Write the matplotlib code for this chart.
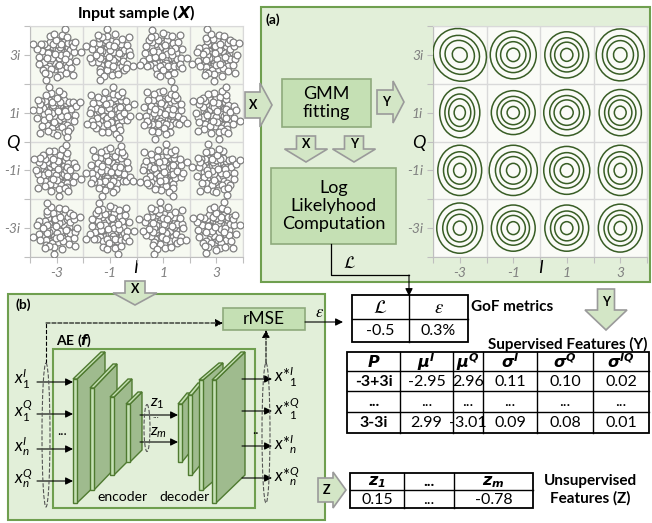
import numpy as np
import matplotlib.pyplot as plt
from matplotlib.patches import Rectangle, Polygon, Ellipse

plt.rcParams['font.family'] = ['Lato', 'DejaVu Sans']
plt.rcParams['mathtext.fontset'] = 'custom'
plt.rcParams['mathtext.rm'] = 'Lato'
plt.rcParams['mathtext.it'] = 'Lato:italic'
plt.rcParams['mathtext.bf'] = 'DejaVu Sans:italic:bold'

# 16-QAM constellation points (I, Q)
const_i = [-3, -1, 1, 3]
const_q = [3, 1, -1, -3]

# received symbol offsets around a constellation point
noise_dx = [0.05, -0.12, 0.18, -0.04, 0.22, -0.25, 0.08, -0.16, 0.12, -0.20,
            0.00, 0.26, -0.28, 0.15, -0.08, 0.02, -0.14, 0.24, -0.02, 0.10,
            -0.22, 0.20, -0.10, 0.28, -0.26, 0.06, -0.18, 0.16, -0.06, 0.12,
            0.40, -0.42, 0.35, -0.30, 0.10, -0.14, 0.22, -0.05, 0.48, -0.50,
            0.32, -0.36, 0.44, -0.46, 0.05, 0.28, -0.26, 0.38, -0.40, 0.52,
            -0.54, 0.16, -0.20, 0.46, -0.32, 0.34, 0.00, -0.38, 0.18, -0.12,
            0.42, -0.48, 0.30, -0.02, 0.08,
            0.66, -0.68, 0.58, -0.60, 0.55, -0.52, 0.20, -0.24, 0.14, -0.30,
            0.72, -0.74, 0.40, -0.44, 0.62, -0.10, 0.34, -0.66, 0.70, 0.00,
            0.90, -0.88, 0.30, -0.40, 0.62]
noise_dy = [0.02, 0.08, -0.10, -0.20, 0.14, -0.06, 0.25, 0.20, -0.24, -0.18,
            0.12, 0.00, 0.10, 0.08, -0.06, -0.28, 0.28, -0.18, 0.22, -0.12,
            0.02, 0.22, -0.27, 0.10, -0.20, 0.16, -0.10, -0.02, 0.04, 0.28,
            0.12, 0.18, -0.30, -0.38, 0.46, 0.50, -0.44, -0.48, -0.05, -0.02,
            0.36, 0.32, 0.28, -0.26, -0.40, 0.44, 0.44, -0.42, -0.44, 0.16,
            0.12, -0.52, -0.50, -0.24, 0.06, 0.02, 0.36, -0.12, 0.38, 0.38,
            0.40, 0.36, -0.14, 0.52, -0.34,
            0.10, -0.08, 0.40, 0.38, -0.45, -0.52, 0.68, 0.66, -0.70, -0.66,
            -0.20, 0.22, 0.62, -0.62, 0.30, 0.74, -0.64, -0.30, 0.44, -0.76,
            0.10, 0.36, 0.90, -0.86, -0.70]
# per-cluster mirroring / transposition of the offsets (sign I, sign Q, swap)
cluster_flip = [(1, 1, 0), (-1, 1, 1), (1, -1, 0), (-1, -1, 1),
                (-1, 1, 0), (1, 1, 1), (-1, -1, 0), (1, -1, 1),
                (1, -1, 1), (-1, -1, 0), (1, 1, 1), (-1, 1, 0),
                (-1, -1, 1), (1, -1, 0), (-1, 1, 1), (1, 1, 0)]

# fitted GMM components: outer contour half-widths (I, Q) and tilt
gmm_rx = [[1.01, 0.86, 0.82, 0.90],
          [0.75, 0.82, 0.86, 0.79],
          [0.82, 0.90, 0.86, 0.82],
          [0.86, 0.82, 0.82, 0.82]]
gmm_ry = [[0.90, 0.83, 0.80, 0.90],
          [0.87, 0.76, 0.80, 0.80],
          [0.87, 0.87, 0.83, 0.87],
          [0.87, 0.80, 0.80, 0.83]]
gmm_tilt = [[-20, 0, 0, 25],
            [0, 0, 0, 0],
            [0, 0, 0, 0],
            [0, 0, 0, 0]]
contour_levels = [0.28, 0.55, 0.74, 1.0]

gof_header = ['$\\mathcal{L}$', '$\\varepsilon$']
gof_values = ['-0.5', '0.3%']
sup_header = ['$\\mathbf{P}$', '$\\mathbf{\\mu^{I}}$', '$\\mathbf{\\mu^{Q}}$',
              '$\\mathbf{\\sigma^{I}}$', '$\\mathbf{\\sigma^{Q}}$', '$\\mathbf{\\sigma^{IQ}}$']
sup_rows = [['-3+3i', '-2.95', '2.96', '0.11', '0.10', '0.02'],
            ['...', '...', '...', '...', '...', '...'],
            ['3-3i', '2.99', '-3.01', '0.09', '0.08', '0.01']]
z_header = ['$\\mathbf{z_{1}}$', '...', '$\\mathbf{z_{m}}$']
z_values = ['0.15', '...', '-0.78']

in_labels = ['$x_1^{I}$', '$x_1^{Q}$', '$x_n^{I}$', '$x_n^{Q}$']
out_labels = ['$x{*}_1^{I}$', '$x{*}_1^{Q}$', '$x{*}_n^{I}$', '$x{*}_n^{Q}$']

PANEL = '#e2efd9'
PANEL_EDGE = '#6f9f4f'
BOX = '#c5e0b4'
BOX_EDGE = '#8eaa7c'
ARROW_FILL = '#d3e6c6'
ARROW_EDGE = '#9a9a9a'
SLAB_SIDE = '#9fbb8e'
SLAB_FRONT = '#c5e0b4'
SLAB_EDGE = '#4f7a30'
RING = '#385d25'

W, H = 652, 523
fig = plt.figure(figsize=(W / 100, H / 100), dpi=100)
ax = fig.add_axes([0, 0, 1, 1])
ax.set_xlim(0, W)
ax.set_ylim(H, 0)
ax.axis('off')


def px_axes(x0, y0, x1, y1):
    return fig.add_axes([x0 / W, 1 - y1 / H, (x1 - x0) / W, (y1 - y0) / H])


def iq_axes(box, face):
    a = px_axes(*box)
    a.set_xlim(-4, 4)
    a.set_ylim(-4, 4)
    a.set_facecolor(face)
    a.set_xticks(const_i)
    a.set_xticklabels([str(v) for v in const_i])
    a.set_yticks(const_q)
    a.set_yticklabels(['%di' % v for v in const_q])
    a.set_xticks([-4, -2, 0, 2, 4], minor=True)
    a.set_yticks([-4, -2, 0, 2, 4], minor=True)
    a.grid(True, which='minor', color='#d9d9d9', lw=1)
    a.tick_params(which='both', length=4, width=0.8, color='#bfbfbf',
                  labelcolor='#808080', labelsize=10, pad=3)
    for t in a.get_xticklabels() + a.get_yticklabels():
        t.set_fontstyle('italic')
    for s in a.spines.values():
        s.set_color('#d9d9d9')
    a.spines['left'].set_color('#bfbfbf')
    a.spines['bottom'].set_color('#bfbfbf')
    a.set_axisbelow(True)
    return a


def right_arrow(x0, x1, yc, body_h, head_h, head_l, label):
    xs = x1 - head_l
    pts = [(x0, yc - body_h / 2), (xs, yc - body_h / 2), (xs, yc - head_h / 2), (x1, yc),
           (xs, yc + head_h / 2), (xs, yc + body_h / 2), (x0, yc + body_h / 2)]
    ax.add_patch(Polygon(pts, closed=True, fc=ARROW_FILL, ec=ARROW_EDGE, lw=1.2, zorder=4))
    ax.text((x0 + xs) / 2 + 1, yc, label, ha='center', va='center', fontsize=9,
            fontweight='bold', zorder=5)


def down_arrow(xc, y0, y1, body_w, head_w, head_l, label):
    ys = y1 - head_l
    pts = [(xc - body_w / 2, y0), (xc + body_w / 2, y0), (xc + body_w / 2, ys), (xc + head_w / 2, ys),
           (xc, y1), (xc - head_w / 2, ys), (xc - body_w / 2, ys)]
    ax.add_patch(Polygon(pts, closed=True, fc=ARROW_FILL, ec=ARROW_EDGE, lw=1.2, zorder=4))
    ax.text(xc, (y0 + ys) / 2 + 2, label, ha='center', va='center', fontsize=9,
            fontweight='bold', zorder=5)


def box(x0, y0, x1, y1, text, fs=13):
    ax.add_patch(Rectangle((x0, y0), x1 - x0, y1 - y0, fc=BOX, ec=BOX_EDGE, lw=1.2, zorder=3))
    ax.text((x0 + x1) / 2, (y0 + y1) / 2, text, ha='center', va='center', fontsize=fs,
            linespacing=1.15, zorder=4)


def arrow(p0, p1, ls='-'):
    ax.annotate('', xy=p1, xytext=p0,
                arrowprops=dict(arrowstyle='-|>', color='black', lw=0.8, ls=ls,
                                mutation_scale=11, shrinkA=0, shrinkB=0), zorder=6)


def slab(x, ytop, ybot, dx, dy, w=4):
    ax.add_patch(Polygon([(x, ytop), (x + dx, ytop - dy), (x + dx, ybot - dy), (x, ybot)],
                         closed=True, fc=SLAB_SIDE, ec=SLAB_EDGE, lw=1, zorder=4))
    ax.add_patch(Polygon([(x - w, ytop), (x, ytop), (x + dx, ytop - dy), (x + dx - w, ytop - dy)],
                         closed=True, fc=SLAB_FRONT, ec=SLAB_EDGE, lw=1, zorder=4))
    ax.add_patch(Rectangle((x - w, ytop), w, ybot - ytop, fc=SLAB_FRONT, ec=SLAB_EDGE,
                           lw=1, zorder=4))


def table(x_edges, y_edges, cells, fs=11.5, bold_rows=(), bold_first_col=False):
    x0, x1 = x_edges[0], x_edges[-1]
    y0, y1 = y_edges[0], y_edges[-1]
    ax.add_patch(Rectangle((x0, y0), x1 - x0, y1 - y0, fc='white', ec='black', lw=1.3, zorder=3))
    for x in x_edges[1:-1]:
        ax.plot([x, x], [y0, y1], color='black', lw=1, zorder=4)
    for y in y_edges[1:-1]:
        ax.plot([x0, x1], [y, y], color='black', lw=1, zorder=4)
    for r, row in enumerate(cells):
        for c, txt in enumerate(row):
            cx = (x_edges[c] + x_edges[c + 1]) / 2
            cy = (y_edges[r] + y_edges[r + 1]) / 2
            bold = r in bold_rows or (bold_first_col and c == 0)
            t = ax.text(cx, cy + 0.5, txt, ha='center', va='center', fontsize=fs,
                        fontweight='bold' if bold else 'normal', zorder=5)
            if '\\mathcal' in txt or '\\varepsilon' in txt:
                t.set_math_fontfamily('stix')
                t.set_fontsize(fs + 2)


# ---- panel backgrounds
ax.add_patch(Rectangle((261, 7), 389, 275, fc=PANEL, ec=PANEL_EDGE, lw=1.5, zorder=1))
ax.add_patch(Rectangle((8, 294), 317, 226, fc=PANEL, ec=PANEL_EDGE, lw=1.5, zorder=1))
ax.add_patch(Rectangle((53, 349), 202, 159, fc=PANEL, ec=PANEL_EDGE, lw=1.5, zorder=2))

# ---- input sample scatter
ax.text(136, 13, 'Input sample ($\\mathbf{X}$)', ha='center', va='center', fontsize=11.5,
        fontweight='bold')
sc = iq_axes((30, 26, 243, 257), '#f6f9f1')
off = np.column_stack([noise_dx, noise_dy])
k = 0
for q in const_q:
    for i in const_i:
        fi, fq, sw = cluster_flip[k]
        ox, oy = (off[:, 1], off[:, 0]) if sw else (off[:, 0], off[:, 1])
        sc.scatter(i + fi * ox, q + fq * oy, s=24, facecolors='white', edgecolors='#7f7f7f',
                   linewidths=0.9, zorder=3)
        k += 1
ax.text(13, 143, 'Q', ha='center', va='center', fontsize=13, fontstyle='italic')
ax.text(135, 268, 'I', ha='center', va='center', fontsize=13, fontstyle='italic')

# ---- panel (a)
ax.text(266, 20, '(a)', ha='left', va='center', fontsize=10, fontweight='bold', zorder=5)
right_arrow(245, 272, 105, 26, 44, 12, 'X')
box(282, 79, 371, 127, 'GMM\nfitting')
right_arrow(377, 404, 102, 24, 42, 11, 'Y')
down_arrow(306, 136, 162, 19, 43, 13, 'X')
down_arrow(354, 136, 162, 19, 43, 13, 'Y')
box(271, 168, 396, 244, 'Log\nLikelyhood\nComputation')

gm = iq_axes((433, 26, 647, 257), '#fafbf7')
for r, q in enumerate(const_q):
    for c, i in enumerate(const_i):
        for lev in contour_levels:
            gm.add_patch(Ellipse((i, q), 2 * lev * gmm_rx[r][c], 2 * lev * gmm_ry[r][c],
                                 angle=gmm_tilt[r][c], fill=False, ec=RING, lw=1.1, zorder=3))
ax.text(419, 143, 'Q', ha='center', va='center', fontsize=13, fontstyle='italic', zorder=5)
ax.text(540, 268, 'I', ha='center', va='center', fontsize=13, fontstyle='italic', zorder=5)

# log-likelihood to GoF table
ax.plot([331, 331, 409], [244, 275, 275], color='black', lw=0.9, zorder=5)
arrow((409, 275), (409, 296))
ax.text(349, 263, '$\\mathcal{L}$', ha='center', va='center', fontsize=12,
        math_fontfamily='stix')

# ---- panel (b)
down_arrow(135, 281, 305, 20, 44, 12, 'X')
ax.text(15, 305, '(b)', ha='left', va='center', fontsize=10, fontweight='bold', zorder=5)
ax.text(56, 341, 'AE ($\\mathbf{f}$)', ha='left', va='center', fontsize=10,
        fontweight='bold', zorder=5)
box(223, 308, 305, 330, 'rMSE', fs=12.5)

for x, yt, yb, dx, dy in [(77, 379, 503, 28, 27), (94, 388, 490, 23, 24),
                          (114, 397, 475, 18, 18), (130, 404, 462, 12, 12)]:
    slab(x, yt, yb, dx, dy)
for x, yt, yb, dx, dy in [(182, 404, 462, 9, 11), (192, 395, 475, 10, 12),
                          (203, 380, 490, 20, 17), (216, 380, 503, 29, 28)]:
    slab(x, yt, yb, dx, dy)
ax.text(122, 497, 'encoder', ha='center', va='center', fontsize=10, zorder=5)
ax.text(185, 497, 'decoder', ha='center', va='center', fontsize=10, zorder=5)

in_y = [382, 414, 449, 481]
out_y = [379, 411, 446, 478]
for y, lab in zip(in_y, in_labels):
    arrow((37, y), (73, y))
    ax.text(14, y - 3, lab, ha='left', va='center', fontsize=12, zorder=5)
ax.text(62, 431, '...', ha='center', va='center', fontsize=10, zorder=5)
for y, lab in zip(out_y, out_labels):
    arrow((242, y), (272, y))
    ax.text(274, y - 2, lab, ha='left', va='center', fontsize=12, zorder=5)
ax.text(255, 430, '..', ha='center', va='center', fontsize=10, zorder=5)

arrow((140, 415), (178, 415))
arrow((140, 442), (178, 442))
ax.text(150, 404, '$z_1$', ha='left', va='center', fontsize=11.5, zorder=7)
ax.text(156, 420, '...', ha='center', va='bottom', fontsize=7, zorder=7)
ax.text(150, 433, '$z_m$', ha='left', va='center', fontsize=11.5, zorder=7)

for cx, cy, ew, eh in [(46, 435, 8, 144), (266, 433, 8, 140), (147, 428, 6, 47)]:
    ax.add_patch(Ellipse((cx, cy), ew, eh, fill=False, ec='#555555', lw=0.8, ls='--', zorder=6))

ax.plot([46, 46], [363, 323], color='black', lw=0.8, ls='--', zorder=5)
arrow((46, 323), (223, 323), ls='--')
arrow((266, 363), (266, 330), ls='--')
arrow((305, 322), (343, 322))
ax.text(320, 312, '$\\varepsilon$', ha='center', va='center', fontsize=12,
        math_fontfamily='stix')

# ---- feature tables
table([352, 409, 468], [295, 319, 342], [gof_header, gof_values], fs=11.5, bold_rows=(0,))
ax.text(471, 307, 'GoF metrics', ha='left', va='center', fontsize=11, fontweight='bold')
down_arrow(606, 289, 330, 17, 42, 20, 'Y')
ax.text(488, 344, 'Supervised Features (Y)', ha='left', va='center', fontsize=11,
        fontweight='bold')
table([347, 400, 453, 483, 537, 593, 649], [352, 371, 391, 412, 433],
      [sup_header] + sup_rows, fs=11.5, bold_rows=(0,), bold_first_col=True)

right_arrow(318, 346, 490, 24, 36, 13, 'Z')
table([350, 404, 454, 533], [473, 490, 508], [z_header, z_values], fs=11.5, bold_rows=(0,))
ax.text(590, 490, 'Unsupervised\nFeatures (Z)', ha='center', va='center', fontsize=11,
        fontweight='bold', linespacing=1.3)

fig.savefig('out.png', dpi=100)
